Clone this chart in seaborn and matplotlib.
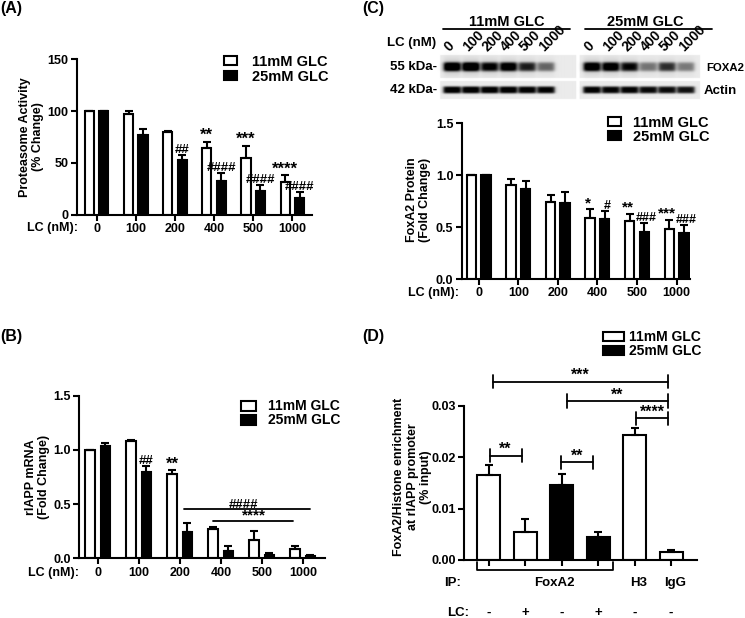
import numpy as np
import pandas as pd
import matplotlib
matplotlib.use('Agg')
import matplotlib.pyplot as plt
import seaborn as sns
from matplotlib.patches import Patch
from matplotlib.transforms import blended_transform_factory

# ---------------- data ----------------
lc_doses = ['0', '100', '200', '400', '500', '1000']
glc_levels = ['11mM GLC', '25mM GLC']

# (A) proteasome activity
prot_11 = [100, 97, 80, 64, 55, 32]
prot_11_err = [0, 3, 1, 6.5, 11.5, 6]
prot_25 = [100, 77, 53, 33, 23, 16]
prot_25_err = [0, 6, 5, 7, 6, 6]
prot_stars = ['', '', '', '**', '***', '****']
prot_hashes = ['', '', '##', '####', '####', '####']

# (B) rIAPP mRNA
mrna_11 = [1.00, 1.08, 0.78, 0.27, 0.17, 0.09]
mrna_11_err = [0, 0.01, 0.03, 0.02, 0.08, 0.02]
mrna_25 = [1.04, 0.80, 0.24, 0.07, 0.035, 0.02]
mrna_25_err = [0.02, 0.05, 0.09, 0.04, 0.015, 0.006]
mrna_stars = ['', '', '**', '', '', '']
mrna_hashes = ['', '##', '', '', '', '']
mrna_lines = [('####', 2.10, 5.18, 0.455, 3.55), ('****', 2.82, 4.77, 0.347, 3.8)]

# (C) FoxA2 protein
foxa2_11 = [1.00, 0.905, 0.745, 0.585, 0.56, 0.48]
foxa2_11_err = [0, 0.055, 0.065, 0.087, 0.07, 0.09]
foxa2_25 = [1.00, 0.867, 0.729, 0.578, 0.45, 0.44]
foxa2_25_err = [0, 0.08, 0.105, 0.077, 0.086, 0.08]
foxa2_stars = ['', '', '', '*', '**', '***']
foxa2_hashes = ['', '', '', '#', '###', '###']

# western blot band darkness (0..1)
blot_foxa2_11 = [0.97, 1.0, 0.82, 0.90, 0.70, 0.45]
blot_foxa2_25 = [0.92, 0.90, 0.78, 0.40, 0.64, 0.38]
blot_actin_11 = [0.97, 0.98, 0.97, 0.97, 0.95, 0.93]
blot_actin_25 = [0.95, 0.93, 0.94, 0.90, 0.89, 0.86]

# (D) ChIP
chip_bars = ['FoxA2 11 -', 'FoxA2 11 +', 'FoxA2 25 -', 'FoxA2 25 +', 'H3', 'IgG']
chip_glc = ['11mM GLC', '11mM GLC', '25mM GLC', '25mM GLC', '11mM GLC', '11mM GLC']
chip_vals = [0.0166, 0.0055, 0.0146, 0.0045, 0.0243, 0.0015]
chip_err = [0.0019, 0.0025, 0.0021, 0.0009, 0.0015, 0.0005]
chip_lc = ['-', '+', '-', '+', '-', '-']
chip_ip = [('FoxA2', 1.8), ('H3', 4.1), ('IgG', 5.1)]
chip_brackets = [('***', 0.11, 4.92, 0.03476), ('**', 2.14, 4.92, 0.0310),
                 ('****', 4.04, 4.92, 0.02762), ('**', 0.02, 0.90, 0.02033),
                 ('**', 1.99, 2.87, 0.01904)]

palette = {'11mM GLC': 'white', '25mM GLC': 'black'}

# ---------------- style ----------------
sns.set_style('ticks')
plt.rcParams['font.family'] = ['Liberation Sans', 'DejaVu Sans']
plt.rcParams['font.weight'] = 'bold'
plt.rcParams['axes.labelweight'] = 'bold'
for k in ['text.color', 'axes.labelcolor', 'xtick.color', 'ytick.color', 'axes.edgecolor']:
    plt.rcParams[k] = 'black'

W, H = 745, 618
fig = plt.figure(figsize=(W / 100, H / 100), dpi=100)
fig.patch.set_facecolor('white')


def add_ax(l, t, r, b):
    return fig.add_axes([l / W, 1 - b / H, (r - l) / W, (b - t) / H])


def style_axes(ax):
    sns.despine(ax=ax)
    for s in ['left', 'bottom']:
        ax.spines[s].set_linewidth(1.5)
    ax.tick_params(axis='both', length=4, width=1.5, pad=2, labelsize=9, direction='out')
    ax.set_xlabel('')
    ax.set_facecolor('none')


def add_legend(ax, x, y, hl, hh, tp, ls, size=10.5):
    handles = [Patch(facecolor=palette[g], edgecolor='black', linewidth=1.5) for g in glc_levels]
    ax.legend(handles, glc_levels, loc='upper left', bbox_to_anchor=(x / W, 1 - y / H),
              bbox_transform=fig.transFigure, frameon=False,
              prop={'weight': 'bold', 'size': size}, handlelength=hl, handleheight=hh,
              handletextpad=tp, labelspacing=ls, borderpad=0, borderaxespad=0)


def grouped_bars(ax, v11, e11, v25, e25, stars, hashes, star_fs=12, hash_fs=9.5, nudge=0.0):
    df = pd.DataFrame({'LC': lc_doses * 2, 'value': v11 + v25,
                       'GLC': [glc_levels[0]] * 6 + [glc_levels[1]] * 6})
    sns.barplot(data=df, x='LC', y='value', hue='GLC', order=lc_doses, hue_order=glc_levels,
                palette=palette, saturation=1, edgecolor='black', linewidth=1.5,
                width=0.74, gap=0.36, errorbar=None, legend=False, ax=ax, zorder=2)
    bars = sorted(ax.patches, key=lambda p: p.get_x())
    centers = [p.get_x() + p.get_width() / 2 for p in bars]
    x11 = centers[0::2]
    x25 = centers[1::2]
    for xs, vals, errs, labels, fs, dx in [(x11, v11, e11, stars, star_fs, -nudge),
                                           (x25, v25, e25, hashes, hash_fs, nudge)]:
        ax.errorbar(xs, vals, yerr=[np.zeros(len(errs)), errs], fmt='none', ecolor='black',
                    elinewidth=1.5, capsize=2.6, capthick=1.5, zorder=3)
        for x, v, e, lab in zip(xs, vals, errs, labels):
            if lab:
                ax.annotate(lab, (x, v + e), xytext=(dx, 1.5), textcoords='offset points',
                            ha='center', va='baseline', fontsize=fs, fontweight='bold',
                            annotation_clip=False)
    style_axes(ax)


# ---------------- (A) ----------------
axA = add_ax(77, 59, 312, 215)
grouped_bars(axA, prot_11, prot_11_err, prot_25, prot_25_err, prot_stars, prot_hashes)
axA.set_xlim(-0.5, 5.5)
axA.set_ylim(0, 150)
axA.set_yticks([0, 50, 100, 150])
axA.set_ylabel('Proteasome Activity\n(% Change)', fontsize=9, va='center', linespacing=1.1)
axA.yaxis.set_label_coords(-0.195, 0.5)
add_legend(axA, 224, 55, 0.9, 0.55, 1.0, 0.05)
fig.text(27 / W, 1 - 228 / H, 'LC (nM):', fontsize=9, fontweight='bold', ha='left', va='center')
fig.text(0, 1 - 9 / H, '(A)', fontsize=11.5, fontweight='bold', ha='left', va='center')

# ---------------- (B) ----------------
axB = add_ax(79, 395.7, 325, 558.3)
grouped_bars(axB, mrna_11, mrna_11_err, mrna_25, mrna_25_err, mrna_stars, mrna_hashes)
axB.set_xlim(-0.46, 5.54)
axB.set_ylim(0, 1.5)
axB.set_yticks([0, 0.5, 1.0, 1.5])
axB.set_yticklabels(['0.0', '0.5', '1.0', '1.5'])
for lab, x0, x1, y, xt in mrna_lines:
    axB.plot([x0, x1], [y, y], color='black', lw=1.3, clip_on=False)
    axB.annotate(lab, (xt, y), xytext=(0, 1.0), textcoords='offset points',
                 ha='center', va='baseline', fontsize=11 if '*' in lab else 9.5,
                 fontweight='bold')
axB.set_ylabel('rIAPP mRNA\n(Fold Change)', fontsize=9, va='center', linespacing=1.1)
axB.yaxis.set_label_coords(-0.167, 0.5)
add_legend(axB, 240.7, 399.5, 1.1, 0.7, 0.9, 0.0, size=10)
fig.text(28 / W, 1 - 573.3 / H, 'LC (nM):', fontsize=9, fontweight='bold', ha='left', va='center')
fig.text(0, 1 - 336 / H, '(B)', fontsize=11.5, fontweight='bold', ha='left', va='center')

# ---------------- (C) bars ----------------
axC = add_ax(461.7, 123.3, 690, 279)
grouped_bars(axC, foxa2_11, foxa2_11_err, foxa2_25, foxa2_25_err, foxa2_stars, foxa2_hashes,
             star_fs=11, hash_fs=9, nudge=1.5)
axC.set_xlim(-0.43, 5.34)
axC.set_ylim(0, 1.5)
axC.set_yticks([0, 0.5, 1.0, 1.5])
axC.set_yticklabels(['0.0', '0.5', '1.0', '1.5'])
axC.set_ylabel('FoxA2 Protein\n(Fold Change)', fontsize=9, va='center', linespacing=1.1)
axC.yaxis.set_label_coords(-0.19, 0.507)
add_legend(axC, 608.3, 116, 0.9, 0.55, 0.8, 0.0)
fig.text(408 / W, 1 - 292.7 / H, 'LC (nM):', fontsize=9, fontweight='bold', ha='left', va='center')
fig.text(362 / W, 1 - 9 / H, '(C)', fontsize=11.5, fontweight='bold', ha='left', va='center')

# ---------------- (C) blot ----------------
lane_px, lane0 = 18.8, 452
axBl = add_ax(436, 50, 702, 100)
xl = ((436 - lane0) / lane_px, (702 - lane0) / lane_px)
axBl.set_xlim(*xl)
axBl.set_ylim(100, 50)
axBl.axis('off')
lanes_11 = np.arange(6)
lanes_25 = np.arange(6) + 7.45
gx = np.linspace(xl[0], xl[1], 700)
gy = np.linspace(50, 100, 150)
X, Y = np.meshgrid(gx, gy)
img = np.ones_like(X)
for bx0, bx1 in [(-0.64, 6.6), (6.8, 13.2)]:
    for by0, by1 in [(55, 78), (81, 99)]:
        img[(X >= bx0) & (X <= bx1) & (Y >= by0) & (Y <= by1)] = 0.92
dark = np.zeros_like(X)
for lanes, fox, act in [(lanes_11, blot_foxa2_11, blot_actin_11), (lanes_25, blot_foxa2_25, blot_actin_25)]:
    for xc, d in zip(lanes, fox):
        xp = 1 / (1 + np.exp((np.abs(X - xc) - 0.44) / 0.06))
        dark += d * xp * (np.exp(-((Y - 66.7) / 4.6) ** 4) + 0.18 * np.exp(-((Y - 66.7) / 8) ** 2))
    for xc, d in zip(lanes, act):
        xp = 1 / (1 + np.exp((np.abs(X - xc) - 0.46) / 0.05))
        dark += d * xp * np.exp(-((Y - 90) / 3.6) ** 4)
img = np.clip(img - 1.0 * dark, 0, 1)
axBl.imshow(img, cmap='gray', vmin=0, vmax=1, extent=(xl[0], xl[1], 100, 50),
            aspect='auto', interpolation='bilinear')
for lanes in [lanes_11, lanes_25]:
    for xc, d in zip(lanes, lc_doses):
        axBl.text(xc - 0.12, 52.5, d, rotation=45, rotation_mode='anchor', ha='left',
                  va='baseline', fontsize=10, fontweight='bold', clip_on=False)
for lab, xc, x0, x1 in [('11mM GLC', 2.91, -0.48, 6.28), ('25mM GLC', 10.27, 7.07, 13.81)]:
    axBl.plot([x0, x1], [29.3, 29.3], color='black', lw=1.3, clip_on=False)
    axBl.text(xc, 25.5, lab, ha='center', va='baseline', fontsize=10.5, fontweight='bold', clip_on=False)
axBl.text(xl[0], 43, 'LC (nM)', ha='right', va='center', fontsize=9.5, fontweight='bold', clip_on=False)
axBl.text(xl[0] + 0.05, 66.7, '55 kDa-', ha='right', va='center', fontsize=9.5, fontweight='bold', clip_on=False)
axBl.text(xl[0] + 0.05, 90, '42 kDa-', ha='right', va='center', fontsize=9.5, fontweight='bold', clip_on=False)
axBl.text(13.55, 68.3, 'FOXA2', ha='left', va='center', fontsize=8.2, fontweight='bold', clip_on=False)
axBl.text(13.37, 90.7, 'Actin', ha='left', va='center', fontsize=9.5, fontweight='bold', clip_on=False)

# ---------------- (D) ----------------
axD = add_ax(464, 406, 696.7, 560)
sns.barplot(x=chip_bars, y=chip_vals, hue=chip_glc, order=chip_bars, hue_order=glc_levels,
            palette=palette, saturation=1, dodge=False, width=0.63, edgecolor='black',
            linewidth=1.5, errorbar=None, legend=False, ax=axD, zorder=2)
xpos = np.arange(len(chip_bars))
axD.errorbar(xpos, chip_vals, yerr=[np.zeros(len(chip_err)), chip_err], fmt='none',
             ecolor='black', elinewidth=1.5, capsize=3.2, capthick=1.5, zorder=3)
axD.set_xlim(-0.68, 5.7)
axD.set_ylim(0, 0.03)
axD.set_yticks([0, 0.01, 0.02, 0.03])
axD.set_yticklabels(['0.00', '0.01', '0.02', '0.03'])
axD.set_xticks(xpos)
axD.set_xticklabels([''] * len(chip_bars))
style_axes(axD)
cap = 0.0013
for lab, x0, x1, y in chip_brackets:
    axD.plot([x0, x1], [y, y], color='black', lw=1.3, clip_on=False)
    for xe in (x0, x1):
        axD.plot([xe, xe], [y - cap, y + cap], color='black', lw=1.3, clip_on=False)
    axD.annotate(lab, ((x0 + x1) / 2, y), xytext=(0, 1.0), textcoords='offset points',
                 ha='center', va='baseline', fontsize=11.5, fontweight='bold', annotation_clip=False)
tD = blended_transform_factory(axD.transData, axD.transAxes)
axD.plot([-0.31, -0.31, 3.4, 3.4], [-0.011, -0.065, -0.065, -0.011], color='black', lw=1.3,
         transform=tD, clip_on=False)
axD.text(-0.98, -0.147, 'IP:', transform=tD, ha='center', va='center', fontsize=9.5, fontweight='bold')
for lab, xc in chip_ip:
    axD.text(xc, -0.147, lab, transform=tD, ha='center', va='center', fontsize=9.5, fontweight='bold')
axD.text(-0.84, -0.346, 'LC:', transform=tD, ha='center', va='center', fontsize=9.5, fontweight='bold')
for xc, s in zip(xpos, chip_lc):
    axD.text(xc, -0.346, s, transform=tD, ha='center', va='center', fontsize=9.5, fontweight='bold')
axD.set_ylabel('FoxA2/Histone enrichment\nat rIAPP promoter\n(% input)', fontsize=9,
               va='center', linespacing=1.15)
axD.yaxis.set_label_coords(-0.22, 0.54)
add_legend(axD, 603.3, 330.5, 1.5, 0.65, 0.35, 0.0, size=10)
fig.text(362 / W, 1 - 336 / H, '(D)', fontsize=11.5, fontweight='bold', ha='left', va='center')

fig.savefig('out.png', dpi=100, facecolor='white')
